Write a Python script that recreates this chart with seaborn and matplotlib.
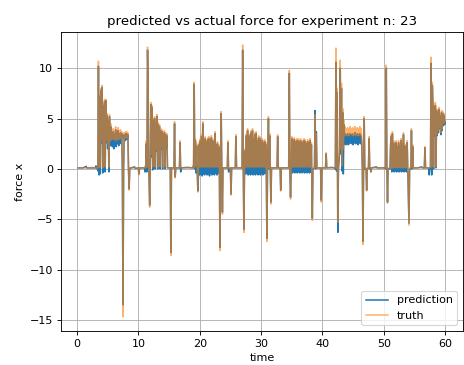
import numpy as np
import pandas as pd
import matplotlib
matplotlib.use("Agg")
import matplotlib.pyplot as plt
import seaborn as sns

# Each segment: (time, truth, prediction)
seg_a = [(0.2, 0.1, 0.1), (1.0, 0.1, 0.1), (1.5, 0.1, 0.25), (1.6, 0.1, 0.1), (2.5, 0.15, 0.1),
         (3.0, 0.1, 0.1), (3.1, 0.1, 0.3), (3.2, 0.1, 0.1)]

seg_b = [(3.3, 0.1, 0.1), (3.4, 0.2, -0.2), (3.5, 10.7, 10.2), (3.6, 0.1, -0.6), (3.7, 7.5, 7.2),
         (3.8, 0.2, -0.5), (3.9, 8.0, 7.8), (4.0, 3.0, 2.6), (4.1, 8.3, 8.1), (4.2, 0.1, -0.4),
         (4.3, 6.5, 6.3), (4.4, 2.0, 1.8), (4.5, 6.9, 6.7), (4.6, 0.2, -0.3), (4.7, 6.9, 6.8),
         (4.8, 3.0, 2.6), (4.9, 5.5, 5.3), (5.0, 2.5, 2.0), (5.1, 5.0, 4.8), (5.2, 0.2, -0.3),
         (5.3, 5.4, 5.2), (5.4, 2.8, 2.3), (5.5, 4.5, 4.2), (5.6, 2.9, 2.3), (5.7, 3.9, 3.6),
         (5.8, 3.0, 2.2), (5.9, 4.0, 3.7), (6.0, 2.9, 2.0), (6.1, 3.8, 3.5), (6.2, 3.1, 2.4),
         (6.3, 4.2, 3.9), (6.4, 2.8, 2.2), (6.5, 3.9, 3.6), (6.6, 3.0, 2.5), (6.7, 4.1, 3.8),
         (6.8, 2.9, 2.3), (6.9, 3.8, 3.5), (7.0, 3.2, 2.6), (7.1, 3.9, 3.6), (7.2, 3.0, 2.5),
         (7.3, 3.7, 3.5), (7.4, 0.2, -0.2), (7.5, -14.7, -13.5), (7.6, 0.1, -0.1), (7.7, 3.6, 3.4),
         (7.8, 3.0, 2.8), (7.9, 3.7, 3.5), (8.0, 3.1, 2.9), (8.1, 3.7, 3.5), (8.2, 3.2, 3.0),
         (8.3, 3.6, 3.4), (8.4, 0.1, -0.1), (8.5, -2.1, -2.0), (8.6, 0.1, 0.0), (8.7, 0.1, 0.1)]

seg_c = [(8.8, 0.1, 0.1), (9.4, 0.1, 0.2), (9.5, 0.1, 0.05), (10.0, 0.1, 0.1), (10.1, -0.6, -0.5),
         (10.2, 0.1, 0.1), (10.9, 0.1, 0.1)]

seg_d = [(11.0, 0.1, 0.1), (11.1, 0.3, -0.3), (11.2, 0.1, 0.0), (11.3, 2.8, 2.5), (11.4, 0.2, -0.3),
         (11.5, 12.1, 11.8), (11.6, 8.5, 8.2), (11.7, 0.2, 0.1), (11.85, -3.8, -3.6), (11.95, 0.2, 0.1),
         (12.05, 6.6, 6.4), (12.15, 1.5, 1.2), (12.25, 6.3, 6.1), (12.35, 0.2, -0.1), (12.45, 5.0, 4.8),
         (12.55, 2.3, 2.0), (12.65, 5.2, 5.0), (12.75, 0.2, 0.0), (12.85, 4.8, 4.6), (12.95, 2.0, 1.8),
         (13.05, 5.4, 5.2), (13.15, 0.2, 0.0), (13.25, 4.6, 4.4), (13.35, 2.5, 2.2), (13.45, 4.4, 4.2),
         (13.55, 0.2, 0.0), (13.65, 4.0, 3.8), (13.75, 2.3, 2.0), (13.85, 3.9, 3.7), (13.95, 0.2, 0.0),
         (14.05, 3.7, 3.5), (14.15, 2.2, 2.0), (14.25, 3.8, 3.6), (14.35, 0.2, 0.0), (14.45, 3.6, 3.4),
         (14.55, 2.4, 2.1), (14.65, 3.5, 3.3), (14.75, 0.1, 0.1), (15.2, 0.1, 0.1), (15.3, -8.6, -8.3),
         (15.4, 0.1, 0.1), (15.8, 0.1, 0.1), (15.9, 4.7, 4.5), (16.0, -0.9, -0.8), (16.1, 0.1, 0.1),
         (16.7, 0.1, 0.1), (16.8, 2.8, 2.6), (16.9, 0.1, -0.3), (17.0, 0.1, 0.1)]

seg_e = [(18.0, 0.1, 0.15), (18.8, 0.1, 0.1), (18.9, 0.3, 0.2), (19.0, 0.1, 0.1), (19.1, 8.6, 8.4),
         (19.2, 0.2, 0.0), (19.3, 3.0, 2.8), (19.4, 0.3, -0.4), (19.5, 2.5, 2.3), (19.6, 0.2, -0.3),
         (19.7, -2.3, -2.2), (19.8, 0.3, -0.5), (19.9, 2.6, 2.4), (20.0, 0.2, -0.6), (20.1, 3.0, 2.8),
         (20.2, 0.2, -0.4), (20.3, 3.4, 3.2), (20.4, 0.2, -0.7), (20.5, 4.7, 4.5), (20.6, 0.2, -0.5),
         (20.7, 3.0, 2.8), (20.8, 0.2, -0.6), (20.9, 3.2, 3.0), (21.0, 0.2, -0.4), (21.1, 2.9, 2.7),
         (21.2, 0.2, -0.6), (21.3, 3.1, 2.9), (21.4, 0.2, -0.5), (21.5, 3.2, 3.0), (21.6, 0.2, -0.7),
         (21.7, 3.0, 2.8), (21.8, 0.2, -0.4), (21.9, 3.3, 3.1), (22.0, 0.2, -0.6), (22.1, 3.0, 2.8),
         (22.2, 0.2, -0.5), (22.3, 2.9, 2.7), (22.4, 0.2, -0.6), (22.5, 3.7, 3.5), (22.6, 0.2, -0.4),
         (22.7, 2.6, 2.4), (22.8, 0.2, -0.6), (22.9, 2.7, 2.5), (23.0, 0.2, -0.4), (23.1, 2.4, 2.2),
         (23.2, 0.1, 0.0), (23.3, -8.1, -7.8), (23.4, 0.1, 0.0), (23.5, 5.7, 5.5), (23.6, 0.1, 0.0),
         (23.7, -4.5, -4.3), (23.8, 0.1, 0.1), (24.5, 0.1, 0.1), (24.6, 2.8, 2.6), (24.7, 0.1, -0.3),
         (25.0, 0.1, 0.1), (25.1, -2.6, -2.5), (25.2, 0.1, 0.1), (25.8, 0.1, 0.1), (25.9, 3.4, 3.2),
         (26.0, 0.1, 0.1), (26.8, 0.1, 0.1)]

seg_f = [(26.9, 0.1, 0.1), (27.0, 12.3, 11.8), (27.1, 0.2, 0.0), (27.2, -6.3, -6.0), (27.3, 0.1, 0.0),
         (27.4, 2.0, 1.8), (27.5, 0.2, -0.5), (27.6, 3.5, 3.3), (27.7, 0.2, -0.4), (27.8, 4.0, 3.8),
         (27.9, 0.2, -0.6), (28.0, 3.5, 3.3), (28.1, 0.2, -0.5), (28.2, 2.5, 2.3), (28.3, 0.2, -0.6),
         (28.4, 3.8, 3.6), (28.5, 0.2, -0.4), (28.6, 4.0, 3.8), (28.7, 0.2, -0.6), (28.8, 3.2, 3.0),
         (28.9, 0.2, -0.5), (29.0, 3.6, 3.4), (29.1, 0.2, -0.6), (29.2, 3.7, 3.5), (29.3, 0.2, -0.4),
         (29.4, 3.0, 2.8), (29.5, 0.2, -0.6), (29.6, 3.3, 3.1), (29.7, 0.2, -0.5), (29.8, 3.2, 3.0),
         (29.9, 0.2, -0.6), (30.0, 2.9, 2.7), (30.1, 0.2, -0.4), (30.2, 3.0, 2.8), (30.3, 0.2, -0.6),
         (30.4, 2.8, 2.6), (30.5, 0.2, -0.5), (30.6, 2.9, 2.7), (30.7, 0.2, -0.4), (30.8, 2.6, 2.4),
         (30.85, 0.1, 0.0), (30.95, -7.2, -6.9), (31.05, 0.1, 0.0), (31.2, 5.2, 5.0), (31.3, 0.1, 0.0),
         (31.4, 3.5, 3.3), (31.5, 0.1, 0.0), (31.6, -3.5, -3.3), (31.7, 0.1, 0.1), (32.6, 0.1, 0.1),
         (32.7, 3.4, 3.2), (32.8, 0.1, 0.1), (33.1, 0.1, 0.1), (33.2, -2.2, -2.1), (33.3, 0.1, 0.1),
         (34.4, 0.1, 0.1)]

seg_g = [(34.5, 0.1, 0.1), (34.6, 9.8, 9.5), (34.7, 0.1, -0.5), (34.8, -3.0, -2.8), (34.9, 0.2, -0.3),
         (35.0, 3.2, 3.0), (35.1, 0.2, -0.4), (35.2, 3.0, 2.8), (35.3, 0.2, -0.3), (35.4, 3.1, 2.9),
         (35.5, 0.2, -0.4), (35.6, 2.9, 2.7), (35.7, 0.2, -0.3), (35.8, 3.0, 2.8), (35.9, 0.2, -0.4),
         (36.0, 3.0, 2.8), (36.1, 0.2, -0.3), (36.2, 2.8, 2.6), (36.3, 0.2, -0.4), (36.4, 3.0, 2.8),
         (36.5, 0.2, -0.3), (36.6, 2.9, 2.7), (36.7, 0.2, -0.4), (36.8, 2.8, 2.6), (36.9, 0.2, -0.3),
         (37.0, 3.0, 2.8), (37.1, 0.2, -0.4), (37.2, 2.9, 2.7), (37.3, 0.2, -0.3), (37.4, 2.7, 2.5),
         (37.5, 0.2, -0.4), (37.6, 2.9, 2.7), (37.7, 0.2, -0.3), (37.8, 2.8, 2.6), (37.9, 0.2, -0.4),
         (38.0, 3.0, 2.8), (38.1, 0.2, -0.3), (38.2, 2.6, 2.4), (38.25, 0.1, 0.0), (38.35, -5.1, -4.9),
         (38.45, 0.1, 0.0), (38.7, 0.1, 0.1), (38.8, 5.4, 5.8), (38.9, 0.1, 0.0), (39.0, 3.5, 3.7),
         (39.1, 0.1, 0.1), (39.7, 0.1, 0.1), (39.8, -3.3, -3.1), (39.9, 0.1, 0.1), (40.5, 0.1, 0.1),
         (40.6, 1.6, 1.5), (40.7, 0.1, 0.1), (41.5, 0.1, 0.15), (42.0, 0.1, 0.1)]

seg_h = [(42.1, 0.1, 0.0), (42.2, 12.0, 10.6), (42.3, 0.1, -0.2), (42.4, 8.0, 7.6), (42.5, -5.3, -6.3),
         (42.6, 0.1, 0.0), (42.8, 2.0, 1.6), (42.9, 10.8, 10.0), (43.0, 2.0, 1.5), (43.1, 8.5, 8.0),
         (43.2, 0.3, -0.2), (43.3, 6.0, 5.6), (43.4, 2.0, -0.5), (43.5, 4.8, 4.4), (43.6, 3.3, 2.5),
         (43.7, 4.2, 3.5), (43.8, 3.4, 2.4), (43.9, 4.0, 3.4), (44.0, 3.3, 2.6), (44.1, 4.1, 3.5),
         (44.2, 3.4, 2.4), (44.3, 4.0, 3.3), (44.4, 3.3, 2.5), (44.5, 4.2, 3.5), (44.6, 3.5, 2.6),
         (44.7, 4.0, 3.4), (44.8, 3.4, 2.5), (44.9, 4.1, 3.5), (45.0, 3.3, 2.4), (45.1, 4.0, 3.3),
         (45.2, 3.4, 2.6), (45.3, 4.2, 3.6), (45.4, 3.3, 2.5), (45.5, 4.0, 3.4), (45.6, 3.5, 2.6),
         (45.7, 4.1, 3.5), (45.8, 3.3, 2.4), (45.9, 4.0, 3.4), (46.0, 3.4, 2.6), (46.1, 4.2, 3.5),
         (46.2, 3.3, 2.5), (46.3, 4.0, 3.3), (46.4, 3.2, 2.6), (46.5, 0.1, 0.0), (46.6, -7.5, -7.2),
         (46.7, 0.1, 0.0), (46.8, 5.2, 5.0), (46.9, 0.1, 0.0), (47.1, 0.1, 0.0), (47.2, -2.2, -2.1),
         (47.3, 0.1, 0.0), (47.5, 0.1, 0.1), (47.6, 3.2, 3.0), (47.7, 0.1, 0.0), (47.8, 0.1, 0.1),
         (47.9, -0.3, -0.3), (48.0, 0.1, 0.1), (48.8, 0.1, 0.2), (48.9, 0.1, 0.1), (49.5, 0.1, 0.1)]

seg_i = [(50.2, 0.1, 0.1), (50.3, 0.1, 0.0), (50.4, 10.3, 10.0), (50.5, 0.1, 0.0), (50.6, -3.4, -3.3),
         (50.7, 0.1, 0.0), (51.0, 0.1, 0.0), (51.1, 2.5, 2.3), (51.2, 3.4, 3.2), (51.3, 0.1, -0.3),
         (51.4, 3.7, 3.5), (51.5, 0.1, -0.2), (51.6, 2.8, 2.6), (51.7, 0.2, -0.3), (51.8, 2.6, 2.4),
         (51.9, 0.1, -0.2), (52.0, 2.8, 2.6), (52.1, 0.2, -0.3), (52.2, 2.4, 2.2), (52.3, 0.1, -0.2),
         (52.4, 2.8, 2.6), (52.5, 0.2, -0.3), (52.6, 2.5, 2.3), (52.7, 0.1, -0.2), (52.8, 3.0, 2.8),
         (52.9, 0.2, -0.3), (53.0, 2.7, 2.5), (53.1, 0.1, -0.2), (53.2, 3.6, 3.4), (53.3, 0.2, -0.3),
         (53.4, 2.5, 2.3), (53.5, 0.1, -0.2), (53.6, 2.4, 2.2), (53.7, 0.2, -0.3), (53.8, 2.8, 2.6),
         (53.9, 0.1, -0.1), (54.1, -5.6, -5.4), (54.2, 0.1, 0.0), (54.4, 0.1, 0.0), (54.5, 4.0, 3.8),
         (54.6, 0.1, 0.0), (54.7, 2.4, 2.2), (54.8, 0.1, 0.1), (55.5, 0.1, 0.1)]

seg_j = [(56.2, 0.1, 0.2), (56.3, 0.1, 0.1), (56.6, 0.1, 0.1), (56.7, 2.2, 2.1), (56.8, 0.1, 0.1),
         (57.3, 0.1, 0.1), (57.4, 0.1, -0.6), (57.5, 0.1, 0.1), (57.6, 0.2, 0.0), (57.7, 11.1, 10.5),
         (57.8, 0.2, -0.6), (57.9, 8.6, 8.3), (58.0, 6.8, 6.5), (58.1, 0.2, 0.0), (58.2, 6.5, 6.2),
         (58.3, 3.5, 3.3), (58.4, 6.6, 6.3), (58.5, 0.2, 0.1), (58.6, 6.0, 5.8), (58.7, 3.5, 3.3),
         (58.8, 5.8, 5.6), (58.9, 3.8, 3.6), (59.0, 6.1, 5.9), (59.1, 4.2, 4.0), (59.2, 5.5, 5.3),
         (59.3, 3.6, 3.4), (59.4, 5.8, 5.6), (59.5, 4.0, 3.8), (59.6, 5.7, 5.5), (59.7, 4.5, 4.3),
         (59.8, 5.5, 5.3), (59.9, 4.6, 4.4), (60.0, 4.9, 4.7)]

segments = [seg_a, seg_b, seg_c, seg_d, seg_e, seg_f, seg_g, seg_h, seg_i, seg_j]
rows = [r for s in segments for r in s]
df = pd.DataFrame(rows, columns=["time", "truth", "prediction"])

W, H = 464, 365
DPI = 80
fig = plt.figure(figsize=(W / DPI, H / DPI), dpi=DPI)
ax = fig.add_axes([61 / W, 1 - 331 / H, (463 - 61) / W, (331 - 32) / H])

sns.lineplot(data=df, x="time", y="prediction", ax=ax, sort=False, estimator=None,
             color="#1f77b4", linewidth=1.4, label="prediction")
sns.lineplot(data=df, x="time", y="truth", ax=ax, sort=False, estimator=None,
             color="#ff7f0e", linewidth=1.4, alpha=0.6, label="truth")

ax.set_xlim(-2.6, 62.9)
ax.set_ylim(-16.1, 13.6)
ax.set_xticks([0, 10, 20, 30, 40, 50, 60])
ax.set_yticks([-15, -10, -5, 0, 5, 10])
ax.grid(True)
ax.set_title("predicted vs actual force for experiment n: 23")
ax.set_xlabel("time")
ax.set_ylabel("force x")
ax.legend(loc="lower right")

fig.savefig("out.png", dpi=DPI)
